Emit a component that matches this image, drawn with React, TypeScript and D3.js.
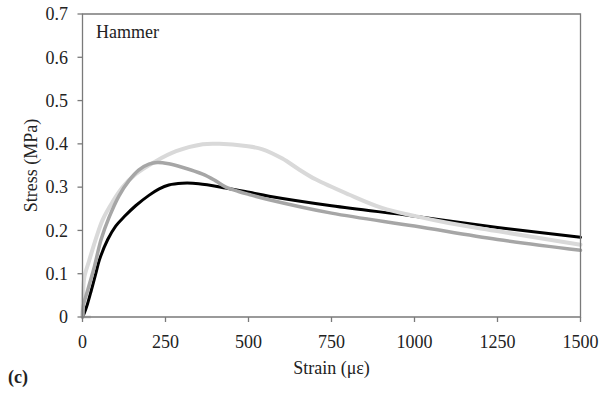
import React from "react";
import * as d3 from "d3";

const xTicks = [0, 250, 500, 750, 1000, 1250, 1500];
const yTicks = [0, 0.1, 0.2, 0.3, 0.4, 0.5, 0.6, 0.7];

const blackSeries: [number, number][] = [
  [0, 0], [6, 0.01], [15, 0.03], [27, 0.063], [40, 0.1], [51, 0.132], [76, 0.179],
  [100, 0.21], [126, 0.232], [160, 0.257], [200, 0.281], [231, 0.296], [260, 0.305],
  [300, 0.309], [350, 0.308], [432, 0.298], [502, 0.288], [562, 0.279], [750, 0.257],
  [1000, 0.233], [1250, 0.207], [1500, 0.184],
];

const darkGraySeries: [number, number][] = [
  [0, 0], [2, 0.025], [16, 0.063], [36, 0.117], [56, 0.179], [80, 0.23], [110, 0.28],
  [140, 0.315], [170, 0.34], [200, 0.353], [225, 0.357], [260, 0.354], [300, 0.346],
  [362, 0.33], [400, 0.315], [432, 0.3], [470, 0.29], [502, 0.283], [562, 0.271],
  [750, 0.24], [1000, 0.21], [1250, 0.179], [1500, 0.154],
];

const lightGraySeries: [number, number][] = [
  [0, 0], [2, 0.06], [6, 0.094], [20, 0.13], [40, 0.18], [61, 0.225], [90, 0.265],
  [121, 0.3], [160, 0.33], [221, 0.36], [282, 0.383], [362, 0.399], [412, 0.4],
  [492, 0.395], [540, 0.388], [602, 0.366], [650, 0.342], [702, 0.318], [802, 0.283],
  [902, 0.252], [1003, 0.233], [1103, 0.217], [1253, 0.198], [1500, 0.167],
];

const lightBaseSeries: [number, number][] = [
  [0, 0], [25, 0],
];

const W = 605, H = 393;
const L = 82.5, R = 580.5, T = 14, B = 317;
const FONT = "Liberation Serif, DejaVu Serif, serif";

export default function App() {
  const x = d3.scaleLinear().domain([0, 1500]).range([L, R]);
  const y = d3.scaleLinear().domain([0, 0.7]).range([B, T]);
  const line = d3
    .line<[number, number]>()
    .x((d) => x(d[0]))
    .y((d) => y(d[1]))
    .curve(d3.curveCatmullRom.alpha(0.5));
  const axisColor = "#7a7a7a";
  const txt = { fontFamily: FONT, fontSize: 18, fill: "#222" } as React.CSSProperties;
  return (
    <svg width={W} height={H} style={{ position: "absolute", left: 0, top: 0, background: "#fff" }}>
      <rect x={0} y={0} width={W} height={H} fill="#fff" />
      <path d={line(lightBaseSeries) || ""} fill="none" stroke="#dcdcdc" strokeWidth={3} />
      <path d={line(blackSeries) || ""} fill="none" stroke="#000" strokeWidth={3} strokeLinejoin="round" strokeLinecap="round" />
      <path d={line(lightGraySeries) || ""} fill="none" stroke="#d9d9d9" strokeWidth={4} strokeLinejoin="round" strokeLinecap="round" />
      <path d={line(darkGraySeries) || ""} fill="none" stroke="#a6a6a6" strokeWidth={3.5} strokeLinejoin="round" strokeLinecap="round" />
      <path d={`M${L},${B}V${T}H${R}V${B}Z`} fill="none" stroke={axisColor} strokeWidth={1.3} />
      {yTicks.map((t) => (
        <g key={"y" + t}>
          <line x1={L - 5} x2={L} y1={y(t)} y2={y(t)} stroke={axisColor} strokeWidth={1.3} />
          <text x={68} y={y(t)} dy="0.35em" textAnchor="end" style={txt}>
            {t === 0 ? "0" : t.toFixed(1)}
          </text>
        </g>
      ))}
      {xTicks.map((t) => (
        <g key={"x" + t}>
          <line x1={x(t)} x2={x(t)} y1={B} y2={B + 5} stroke={axisColor} strokeWidth={1.3} />
          <text x={x(t)} y={348} textAnchor="middle" style={txt}>
            {t}
          </text>
        </g>
      ))}
      <text x={(L + R) / 2} y={374} textAnchor="middle" style={txt}>
        Strain (με)
      </text>
      <text transform={`translate(37,${(T + B) / 2}) rotate(-90)`} textAnchor="middle" style={txt}>
        Stress (MPa)
      </text>
      <text x={96} y={38} style={{ ...txt, fontSize: 18 }}>
        Hammer
      </text>
      <text x={8} y={383} style={{ ...txt, fontWeight: "bold" }}>
        (c)
      </text>
    </svg>
  );
}
